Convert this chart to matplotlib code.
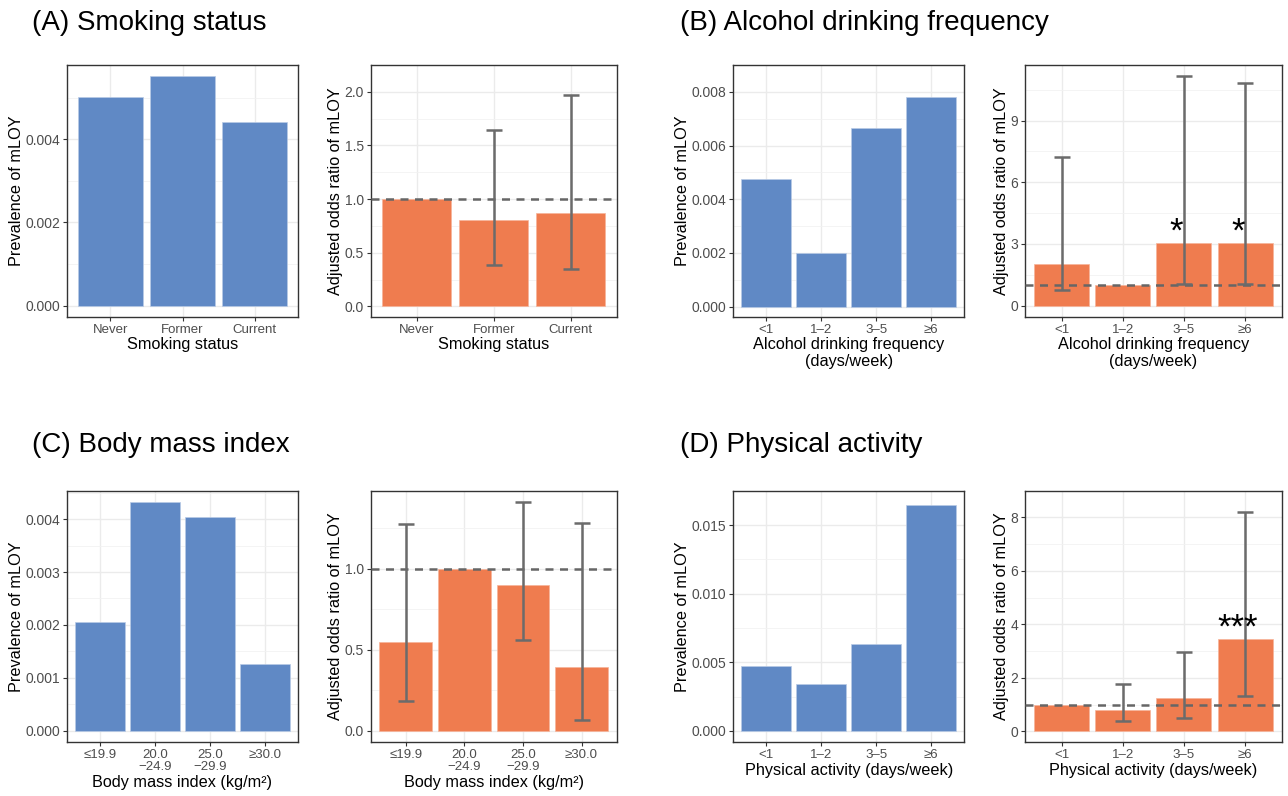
import matplotlib
matplotlib.use("Agg")
import matplotlib.pyplot as plt
import numpy as np

plt.rcParams['font.family'] = ['Liberation Sans', 'DejaVu Sans']

blue = "#6089C5"
orange = "#EF7C4F"
errc = "#6B6B6B"

# (A) smoking
smk_cats = ["Never", "Former", "Current"]
smk_prev = [0.00501, 0.00551, 0.00441]
smk_or = [1.0, 0.81, 0.87]
smk_lo = [1.0, 0.385, 0.352]
smk_hi = [1.0, 1.64, 1.974]
smk_sig = ["", "", ""]

# (B) alcohol
alc_cats = ["<1", "1\u20132", "3\u20135", "\u22656"]
alc_prev = [0.00477, 0.00198, 0.00665, 0.00782]
alc_or = [2.03, 1.0, 3.02, 3.02]
alc_lo = [0.76, 1.0, 1.03, 1.05]
alc_hi = [7.22, 1.0, 11.15, 10.82]
alc_sig = ["", "", "*", "*"]

# (C) BMI
bmi_cats = ["\u226419.9", "20.0\n\u221224.9", "25.0\n\u221229.9", "\u226530.0"]
bmi_prev = [0.00205, 0.00432, 0.00404, 0.00126]
bmi_or = [0.55, 1.0, 0.90, 0.395]
bmi_lo = [0.187, 1.0, 0.558, 0.064]
bmi_hi = [1.276, 1.0, 1.412, 1.282]
bmi_sig = ["", "", "", ""]

# (D) physical activity
pa_cats = ["<1", "1\u20132", "3\u20135", "\u22656"]
pa_prev = [0.00474, 0.00345, 0.00634, 0.01646]
pa_or = [1.0, 0.80, 1.26, 3.45]
pa_lo = [1.0, 0.38, 0.50, 1.33]
pa_hi = [1.0, 1.76, 2.95, 8.19]
pa_sig = ["", "", "", "***"]

fig = plt.figure(figsize=(12.88, 7.96), dpi=100)


def style(ax, cats, yticks, fmt, xlabel, ylabel):
    n = len(cats)
    ax.set_xlim(0.4, n + 0.6)
    ax.set_xticks(range(1, n + 1))
    ax.set_xticklabels(cats, fontsize=9.5, color="#4D4D4D", linespacing=1.0)
    ax.set_yticks(yticks)
    ax.set_yticklabels([fmt.format(v) for v in yticks], fontsize=10, color="#4D4D4D")
    step = yticks[1] - yticks[0]
    minor = [v + step / 2 for v in yticks]
    ax.set_yticks(minor, minor=True)
    ax.tick_params(axis="y", which="minor", length=0)
    ax.tick_params(which="major", length=3, width=0.8, color="#333333", pad=2)
    ax.grid(True, which="major", color="#EBEBEB", lw=1.0)
    ax.grid(True, which="minor", axis="y", color="#F2F2F2", lw=0.6)
    ax.set_axisbelow(True)
    for s in ax.spines.values():
        s.set_color("#333333")
        s.set_linewidth(1.0)
    ax.set_xlabel(xlabel, fontsize=11.7, labelpad=1, linespacing=1.1)
    ax.set_ylabel(ylabel, fontsize=11.7, labelpad=1)


def prev_panel(rect, cats, vals, yticks, xlabel):
    ax = fig.add_axes(rect)
    x = np.arange(1, len(cats) + 1)
    ax.bar(x, vals, width=0.9, color=blue, edgecolor="#B9CBE6", lw=0.5, zorder=2)
    hi = max(vals)
    ax.set_ylim(-0.05 * hi, 1.05 * hi)
    style(ax, cats, yticks, "{:.3f}", xlabel, "Prevalence of mLOY")
    return ax


def or_panel(rect, cats, vals, lo, hi, sig, yticks, fmt, xlabel):
    ax = fig.add_axes(rect)
    x = np.arange(1, len(cats) + 1)
    ax.bar(x, vals, width=0.9, color=orange, edgecolor="#F6B49A", lw=0.5, zorder=2)
    ax.axhline(1.0, color="#666666", lw=1.8, ls=(0, (3.2, 2.6)), zorder=3)
    vals = np.array(vals)
    lo = np.array(lo)
    hi = np.array(hi)
    keep = hi > lo
    ax.errorbar(x[keep], vals[keep], yerr=[vals[keep] - lo[keep], hi[keep] - vals[keep]],
                fmt="none", ecolor=errc, elinewidth=1.8, capsize=5.8, capthick=1.8, zorder=4)
    top = max(hi.max(), vals.max())
    bot = min(0, lo.min())
    pad = 0.05 * (top - bot)
    ax.set_ylim(bot - pad, top + pad)
    for xi, v, s in zip(x, vals, sig):
        if s:
            ax.annotate(s, (xi - 0.12, v), xytext=(0, 1), textcoords="offset points",
                        ha="center", va="baseline", fontsize=25, zorder=5)
    style(ax, cats, yticks, fmt, xlabel, "Adjusted odds ratio of mLOY")
    return ax


top_row = [1 - 317 / 796, 252 / 796]
bot_row = [1 - 742.3 / 796, 251.6 / 796]
cols = [(67 / 1288, 231 / 1288), (370.7 / 1288, 246 / 1288),
        (733 / 1288, 231.3 / 1288), (1025 / 1288, 256.7 / 1288)]

prev_panel([cols[0][0], top_row[0], cols[0][1], top_row[1]], smk_cats, smk_prev,
           [0.0, 0.002, 0.004], "Smoking status")
or_panel([cols[1][0], top_row[0], cols[1][1], top_row[1]], smk_cats, smk_or, smk_lo, smk_hi,
         smk_sig, [0.0, 0.5, 1.0, 1.5, 2.0], "{:.1f}", "Smoking status")
prev_panel([cols[2][0], top_row[0], cols[2][1], top_row[1]], alc_cats, alc_prev,
           [0.0, 0.002, 0.004, 0.006, 0.008], "Alcohol drinking frequency\n(days/week)")
or_panel([cols[3][0], top_row[0], cols[3][1], top_row[1]], alc_cats, alc_or, alc_lo, alc_hi,
         alc_sig, [0, 3, 6, 9], "{:.0f}", "Alcohol drinking frequency\n(days/week)")

prev_panel([cols[0][0], bot_row[0], cols[0][1], bot_row[1]], bmi_cats, bmi_prev,
           [0.0, 0.001, 0.002, 0.003, 0.004], "Body mass index (kg/m\u00b2)")
or_panel([cols[1][0], bot_row[0], cols[1][1], bot_row[1]], bmi_cats, bmi_or, bmi_lo, bmi_hi,
         bmi_sig, [0.0, 0.5, 1.0], "{:.1f}", "Body mass index (kg/m\u00b2)")
prev_panel([cols[2][0], bot_row[0], cols[2][1], bot_row[1]], pa_cats, pa_prev,
           [0.0, 0.005, 0.010, 0.015], "Physical activity (days/week)")
or_panel([cols[3][0], bot_row[0], cols[3][1], bot_row[1]], pa_cats, pa_or, pa_lo, pa_hi,
         pa_sig, [0, 2, 4, 6, 8], "{:.0f}", "Physical activity (days/week)")

fig.text(32 / 1288, 1 - 23 / 796, "(A) Smoking status", fontsize=20, va="center")
fig.text(680 / 1288, 1 - 23 / 796, "(B) Alcohol drinking frequency", fontsize=20, va="center")
fig.text(32 / 1288, 1 - 445 / 796, "(C) Body mass index", fontsize=20, va="center")
fig.text(680 / 1288, 1 - 445 / 796, "(D) Physical activity", fontsize=20, va="center")

fig.savefig("out.png", dpi=100)
